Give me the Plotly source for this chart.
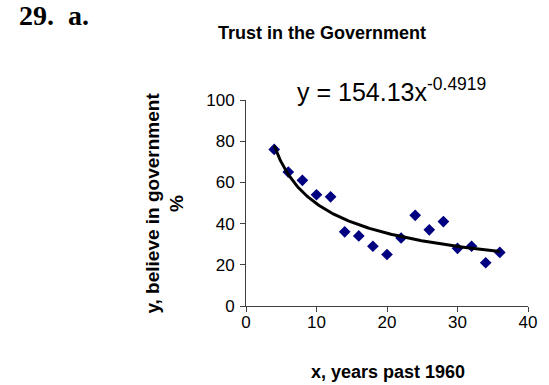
import numpy as np
import plotly.graph_objects as go

# Years past 1960 and percent who trust the government
years = [4, 6, 8, 10, 12, 14, 16, 18, 20, 22, 24, 26, 28, 30, 32, 34, 36]
trust = [76, 65, 61, 54, 53, 36, 34, 29, 25, 33, 44, 37, 41, 28, 29, 21, 26]

# Power-law trendline coefficients: y = a * x^b
coef_a = 154.13
coef_b = -0.4919

x_ticks = [0, 10, 20, 30, 40]
y_ticks = [0, 20, 40, 60, 80, 100]

W, H = 549, 385
L, R, T, B = 246, 12, 100, 79

def px(x):
    return (x - L) / (W - L - R)

def py(y):
    return 1 - (y - T) / (H - T - B)

fit_x = np.linspace(min(years), max(years), 200)
fit_y = coef_a * fit_x ** coef_b

fig = go.Figure()
fig.add_trace(go.Scatter(
    x=years, y=trust, mode="markers",
    marker=dict(symbol="diamond", size=9, color="#000080",
                line=dict(width=0)),
    showlegend=False, hoverinfo="x+y",
))
fig.add_trace(go.Scatter(
    x=fit_x, y=fit_y, mode="lines",
    line=dict(color="black", width=3),
    showlegend=False, hoverinfo="skip",
))

sans = "Liberation Sans, Arial, sans-serif"
axis_common = dict(
    showgrid=False, zeroline=False, showline=True,
    linecolor="#404040", linewidth=1,
    ticks="outside", ticklen=5, tickcolor="#404040", tickwidth=1,
    tickfont=dict(family=sans, size=17, color="black"),
)
fig.update_xaxes(range=[0, 40], tickvals=x_ticks, ticklabelstandoff=-4, **axis_common)
fig.update_yaxes(range=[0, 100], tickvals=y_ticks, ticklabelstandoff=2, **axis_common)

fig.update_layout(
    width=W, height=H,
    margin=dict(l=L, r=R, t=T, b=B),
    paper_bgcolor="white", plot_bgcolor="white",
    annotations=[
        dict(text="<b>29.  a.</b>", x=px(10), y=py(33), xref="paper", yref="paper",
             xanchor="left", yanchor="bottom", showarrow=False,
             font=dict(family="Liberation Serif, Times New Roman, serif", size=28, color="black")),
        dict(text="<b>Trust in the Government</b>", x=px(324), y=py(33), xref="paper", yref="paper",
             xanchor="center", yanchor="middle", showarrow=False,
             font=dict(family=sans, size=18, color="black")),
        dict(text="y = 154.13x<sup>-0.4919</sup>", x=px(396), y=py(90), xref="paper", yref="paper",
             xanchor="center", yanchor="middle", showarrow=False,
             font=dict(family=sans, size=25, color="black")),
        dict(text="<b>y, believe in government<br>%</b>", x=px(162), y=py(203), xref="paper", yref="paper",
             xanchor="center", yanchor="middle", showarrow=False, textangle=-90,
             font=dict(family=sans, size=19, color="black")),
        dict(text="<b>x, years past 1960</b>", x=px(393), y=py(372), xref="paper", yref="paper",
             xanchor="center", yanchor="middle", showarrow=False,
             font=dict(family=sans, size=18, color="black")),
    ],
)

fig.write_html("out.html")
